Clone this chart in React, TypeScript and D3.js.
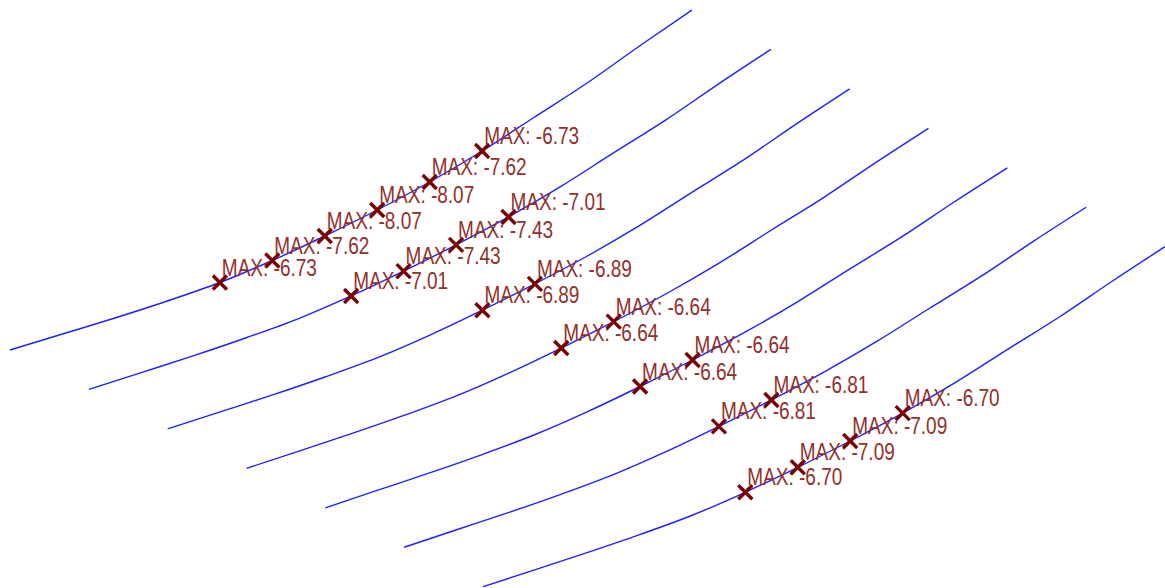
import React from "react";
import * as d3 from "d3";

// Position along each curve (data x)
const X_STEPS = [0, 1, 2, 3, 4, 5, 6, 7, 8, 9, 10, 11, 12, 13];
// Series (depth positions)
const SERIES = [0, 1, 2, 3, 4, 5, 6];
// Curve values per series
const CURVE_0 = [0, 1.6, 3.2, 4.9, 6.75, 8.95, 11.4, 14.0, 16.8, 19.9, 23.3, 26.7, 30.4, 34.0];
const CURVE_1 = [0, 1.69, 3.38, 5.17, 7.09, 9.35, 11.83, 14.46, 17.25, 20.31, 23.65, 26.96, 30.54, 34.0];
const CURVE_2 = [0, 1.7, 3.4, 5.19, 7.12, 9.38, 11.87, 14.5, 17.29, 20.35, 23.68, 26.98, 30.55, 34.0];
const CURVE_3 = [0, 1.73, 3.47, 5.29, 7.25, 9.53, 12.03, 14.67, 17.46, 20.5, 23.81, 27.08, 30.6, 34.0];
const CURVE_4 = [0, 1.76, 3.51, 5.35, 7.33, 9.62, 12.13, 14.78, 17.56, 20.6, 23.89, 27.14, 30.63, 34.0];
const CURVE_5 = [0, 1.75, 3.49, 5.32, 7.29, 9.58, 12.09, 14.73, 17.52, 20.56, 23.85, 27.11, 30.62, 34.0];
const CURVE_6 = [0, 1.71, 3.43, 5.23, 7.17, 9.44, 11.94, 14.57, 17.36, 20.41, 23.73, 27.02, 30.57, 34.0];
const CURVES = [CURVE_0, CURVE_1, CURVE_2, CURVE_3, CURVE_4, CURVE_5, CURVE_6];

// Marker positions (data x) per series
const MARKER_X = [
  [4, 5, 6, 7, 8, 9],
  [5, 6, 7, 8],
  [6, 7],
  [6, 7],
  [6, 7],
  [6, 7],
  [5, 6, 7, 8],
];
// Marker values per series
const MARKER_VALUES = [
  [-6.73, -7.62, -8.07, -8.07, -7.62, -6.73],
  [-7.01, -7.43, -7.43, -7.01],
  [-6.89, -6.89],
  [-6.64, -6.64],
  [-6.64, -6.64],
  [-6.81, -6.81],
  [-6.7, -7.09, -7.09, -6.7],
];

const W = 1165;
const H = 588;

export default function App() {
  const xScale = d3.scaleLinear().domain([0, 13]).range([10, 692]);
  const yScale = d3.scaleLinear().domain([0, 34]).range([350, 10]);
  const depthX = d3.scaleLinear().domain([0, 6]).range([0, 473]);
  const depthY = d3.scaleLinear().domain([0, 6]).range([0, 236.7]);

  const line = (si: number) =>
    d3
      .line<number>()
      .x((d) => xScale(d) + depthX(SERIES[si]))
      .y((d, i) => yScale(CURVES[si][i]) + depthY(SERIES[si]))
      .curve(d3.curveMonotoneX)(X_STEPS) || "";

  const markers: { sx: number; sy: number; v: number; key: string }[] = [];
  SERIES.forEach((s, si) => {
    MARKER_X[si].forEach((mx, mi) => {
      markers.push({
        sx: xScale(mx) + depthX(s),
        sy: yScale(CURVES[si][X_STEPS.indexOf(mx)]) + depthY(s),
        v: MARKER_VALUES[si][mi],
        key: `${si}-${mi}`,
      });
    });
  });

  const r = 7;
  return (
    <svg
      width={W}
      height={H}
      style={{ position: "absolute", left: 0, top: 0, background: "#fff" }}
    >
      {SERIES.map((s, si) => (
        <path key={s} d={line(si)} fill="none" stroke="#1f1fff" strokeWidth={1.4} />
      ))}
      {markers.map((m) => (
        <text
          key={"t" + m.key}
          x={m.sx + 2}
          y={m.sy - 7}
          fill="#93302a"
          fontFamily="'Liberation Sans', Arial, sans-serif"
          fontSize={23.5}
          textLength={95}
          lengthAdjust="spacingAndGlyphs"
        >
          {`MAX: ${m.v.toFixed(2)}`}
        </text>
      ))}
      {markers.map((m) => (
        <g key={"m" + m.key} stroke="#7a0000" strokeWidth={3.4}>
          <line x1={m.sx - r} y1={m.sy - r} x2={m.sx + r} y2={m.sy + r} />
          <line x1={m.sx - r} y1={m.sy + r} x2={m.sx + r} y2={m.sy - r} />
        </g>
      ))}
    </svg>
  );
}
